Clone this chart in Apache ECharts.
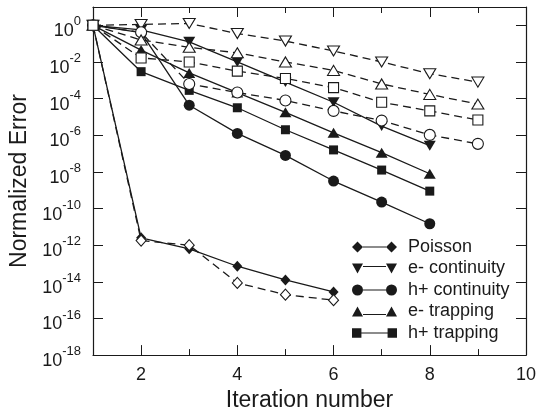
<!DOCTYPE html>
<html>
<head>
<meta charset="utf-8">
<script src="https://cdn.jsdelivr.net/npm/echarts@6/dist/echarts.min.js"></script>
<style>
html,body{margin:0;padding:0;background:#fff;}
#chart{width:539px;height:417px;}
</style>
</head>
<body>
<div id="chart"></div>
<script>
// x: iteration number; values: log10(normalized error)
const iterations = [1, 2, 3, 4, 5, 6, 7, 8, 9];
const yTickExponents = [-18, -16, -14, -12, -10, -8, -6, -4, -2, 0];
const xTickLabels = [2, 4, 6, 8, 10];

// solid lines, filled markers
const poissonSolid      = [0, -11.6, -12.2, -13.15, -13.9, -14.55];
const eContinuitySolid  = [0, -0.25, -0.9, -2.0, -3.1, -4.2, -5.5, -6.57];
const hContinuitySolid  = [0, -0.4, -4.36, -5.9, -7.1, -8.5, -9.65, -10.83];
const eTrappingSolid    = [0, -1.35, -2.6, -3.67, -4.75, -5.87, -6.95, -8.1];
const hTrappingSolid    = [0, -2.53, -3.55, -4.5, -5.7, -6.8, -7.9, -9.05];

// dashed lines, hollow markers
const poissonDashed     = [0, -11.75, -12.0, -14.06, -14.7, -15.0];
const eContinuityDashed = [0, 0.05, 0.1, -0.45, -0.86, -1.4, -2.0, -2.64, -3.1];
const hContinuityDashed = [0, -0.38, -3.2, -3.67, -4.1, -4.67, -5.2, -5.98, -6.47];
const eTrappingDashed   = [0, -0.8, -1.2, -1.5, -2.0, -2.46, -3.2, -3.77, -4.3];
const hTrappingDashed   = [0, -1.78, -2.0, -2.5, -2.9, -3.4, -4.2, -4.67, -5.17];

const FONT = '"Liberation Sans", Arial, Helvetica, sans-serif';
const INK = '#1a1a1a';

const pts = arr => arr.map((v, i) => [iterations[i], v]);

// legend icons: marker - line - marker
const bar = 'M11,5 L34,5 L34,6 L11,6 Z';
const icons = {
  diamond: 'path://M0,5.5 L5.5,0 L11,5.5 L5.5,11 Z ' + bar + ' M34,5.5 L39.5,0 L45,5.5 L39.5,11 Z',
  down: 'path://M0,0 L11,0 L5.5,10 Z M11,2.5 L34,2.5 L34,3.5 L11,3.5 Z M34,0 L45,0 L39.5,10 Z',
  circle: 'path://M0,5.5 A5.5,5.5 0 1,0 11,5.5 A5.5,5.5 0 1,0 0,5.5 Z ' + bar + ' M34,5.5 A5.5,5.5 0 1,0 45,5.5 A5.5,5.5 0 1,0 34,5.5 Z',
  up: 'path://M0,10 L5.5,0 L11,10 Z M11,7.5 L34,7.5 L34,8.5 L11,8.5 Z M34,10 L39.5,0 L45,10 Z',
  square: 'path://M1,1 L10,1 L10,10 L1,10 Z M10,5 L35,5 L35,6 L10,6 Z M35,1 L44,1 L44,10 L35,10 Z'
};

function solid(name, data, symbol, size, rotate) {
  return {
    name: name, type: 'line', data: pts(data),
    symbol: symbol, symbolSize: size, symbolRotate: rotate || 0,
    lineStyle: {color: INK, width: 1.3},
    itemStyle: {color: INK, borderColor: INK, borderWidth: 0},
    showAllSymbol: true, z: 2
  };
}
function dashed(name, data, symbol, size, rotate) {
  return {
    name: name, type: 'line', data: pts(data),
    symbol: symbol, symbolSize: size, symbolRotate: rotate || 0,
    lineStyle: {color: INK, width: 1.3, type: [8, 5]},
    itemStyle: {color: '#fff', borderColor: INK, borderWidth: 1.1},
    showAllSymbol: true, z: 3
  };
}

const baseX = {
  type: 'value', min: 1, max: 10, interval: 1,
  splitLine: {show: false}
};
const baseY = {
  type: 'value', min: -18, max: 1, interval: 2,
  splitLine: {show: false}
};

const option = {
  animation: false,
  backgroundColor: '#fff',
  grid: {left: 93, right: 12, top: 7, bottom: 58, containLabel: false},
  legend: {
    orient: 'vertical', left: 347, top: 233,
    itemWidth: 45, itemHeight: 11, itemGap: 3.5,
    textStyle: {fontFamily: FONT, fontSize: 18, color: INK, lineHeight: 18, padding: [0, 0, 0, 6]},
    data: [
      {name: 'Poisson', icon: icons.diamond},
      {name: 'e- continuity', icon: icons.down},
      {name: 'h+ continuity', icon: icons.circle},
      {name: 'e- trapping', icon: icons.up},
      {name: 'h+ trapping', icon: icons.square}
    ]
  },
  xAxis: [
    Object.assign({}, baseX, {
      position: 'bottom',
      name: 'Iteration number', nameLocation: 'middle', nameGap: 25,
      nameTextStyle: {fontFamily: FONT, fontSize: 23, color: INK},
      axisLine: {show: true, onZero: false, lineStyle: {color: INK, width: 1.2}},
      axisTick: {show: true, inside: true, length: 6, lineStyle: {color: INK, width: 1}},
      axisLabel: {
        fontFamily: FONT, fontSize: 18, color: INK, margin: 11,
        formatter: v => (xTickLabels.indexOf(v) >= 0 ? String(v) : '')
      }
    }),
    Object.assign({}, baseX, {
      position: 'bottom',
      axisLine: {show: false, onZero: false},
      axisTick: {show: true, inside: true, length: 10, customValues: xTickLabels, lineStyle: {color: INK, width: 1}},
      axisLabel: {show: false}
    }),
    Object.assign({}, baseX, {
      position: 'top',
      axisLine: {show: true, onZero: false, lineStyle: {color: INK, width: 1.2}},
      axisTick: {show: true, inside: true, length: 6, lineStyle: {color: INK, width: 1}},
      axisLabel: {show: false}
    }),
    Object.assign({}, baseX, {
      position: 'top',
      axisLine: {show: false, onZero: false},
      axisTick: {show: true, inside: true, length: 10, customValues: xTickLabels, lineStyle: {color: INK, width: 1}},
      axisLabel: {show: false}
    })
  ],
  yAxis: [
    Object.assign({}, baseY, {
      position: 'left',
      name: 'Normalized Error', nameLocation: 'middle', nameGap: 62,
      nameTextStyle: {fontFamily: FONT, fontSize: 23, color: INK},
      axisLine: {show: true, onZero: false, lineStyle: {color: INK, width: 1.2}},
      axisTick: {show: true, inside: true, length: 10, lineStyle: {color: INK, width: 1}},
      axisLabel: {
        fontFamily: FONT, color: INK, margin: 12, padding: [5, 0, 0, 0],
        formatter: v => (yTickExponents.indexOf(v) >= 0 ? '{b|10}{s|' + v + '}' : ''),
        rich: {
          b: {fontFamily: FONT, fontSize: 18, lineHeight: 25, color: INK, verticalAlign: 'bottom'},
          s: {fontFamily: FONT, fontSize: 13, lineHeight: 13, color: INK, verticalAlign: 'top'}
        }
      }
    }),
    Object.assign({}, baseY, {
      position: 'right',
      axisLine: {show: true, onZero: false, lineStyle: {color: INK, width: 1.2}},
      axisTick: {show: true, inside: true, length: 10, lineStyle: {color: INK, width: 1}},
      axisLabel: {show: false}
    })
  ],
  series: [
    solid('Poisson', poissonSolid, 'diamond', [10, 11]),
    solid('e- continuity', eContinuitySolid, 'triangle', [12, 10], 180),
    solid('h+ continuity', hContinuitySolid, 'circle', 11),
    solid('e- trapping', eTrappingSolid, 'triangle', [12, 10]),
    solid('h+ trapping', hTrappingSolid, 'rect', 9),
    dashed('Poisson (dashed)', poissonDashed, 'diamond', [10, 11]),
    dashed('e- continuity (dashed)', eContinuityDashed, 'triangle', [12, 10], 180),
    dashed('h+ continuity (dashed)', hContinuityDashed, 'circle', 11),
    dashed('e- trapping (dashed)', eTrappingDashed, 'triangle', [12, 10]),
    dashed('h+ trapping (dashed)', hTrappingDashed, 'rect', 10)
  ]
};

const chart = echarts.init(document.getElementById('chart'), null, {renderer: 'canvas'});
chart.setOption(option);
</script>
</body>
</html>
